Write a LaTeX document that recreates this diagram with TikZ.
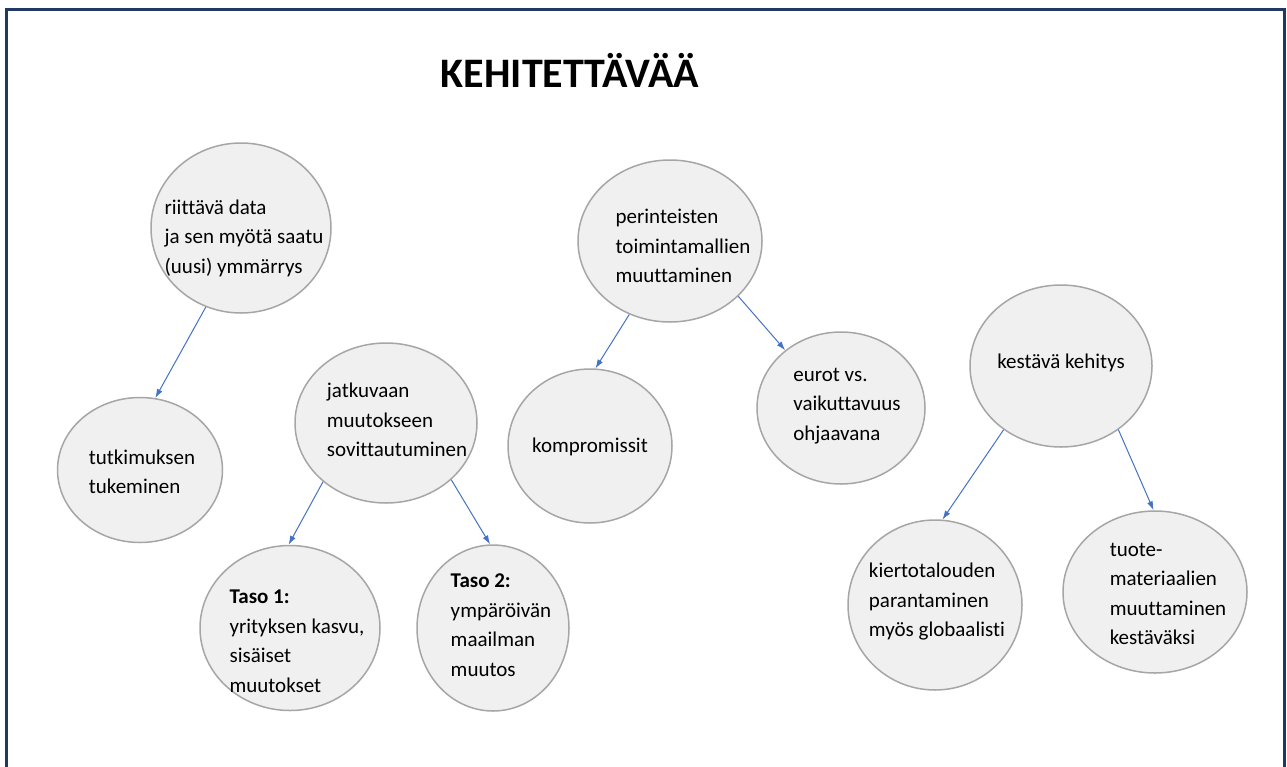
\documentclass[tikz,border=0pt]{standalone}
\usepackage{fontspec}
\setmainfont[Ligatures=NoCommon]{Carlito}
\usepackage{tikz}
\usetikzlibrary{arrows.meta,shapes.geometric}
\usepackage{xcolor}

\definecolor{framenavy}{HTML}{1F3864}
\definecolor{arrowblue}{HTML}{4472C4}
\definecolor{bubblefill}{HTML}{F0F0F0}
\definecolor{bubbleline}{HTML}{A6A6A6}

\begin{document}
\begin{tikzpicture}[x=1pt,y=-1pt]
	\useasboundingbox (0,0) rectangle (1287,766);
	\draw[framenavy,line width=3pt] (6,790) -- (6,9) -- (1284,9) -- (1284,790);

	\node[font=\fontsize{42}{48}\selectfont\bfseries] (title) at (570,70) {KEHITETTÄVÄÄ};

	% the bubbles
	\begin{scope}[every node/.style={ellipse,draw=bubbleline,line width=1.5pt,fill=bubblefill,inner sep=0pt}]
		\node[minimum width=180pt,minimum height=170pt] (data) at (241,228) {};
		\node[minimum width=165pt,minimum height=145pt] (tutk) at (140,470) {};
		\node[minimum width=182pt,minimum height=160pt] (jatk) at (386,423) {};
		\node[minimum width=180pt,minimum height=165pt] (taso1) at (290,628) {};
		\node[minimum width=152pt,minimum height=166pt] (taso2) at (493,628) {};
		\node[minimum width=184pt,minimum height=162pt] (perint) at (670,241) {};
		\node[minimum width=164pt,minimum height=154pt] (kompr) at (590,446) {};
		\node[minimum width=168pt,minimum height=152pt] (eurot) at (841,408) {};
		\node[minimum width=182pt,minimum height=162pt] (kest) at (1061,366) {};
		\node[minimum width=174pt,minimum height=170pt] (kiert) at (935,605) {};
		\node[minimum width=184pt,minimum height=162pt] (tuote) at (1155,592) {};
	\end{scope}

	% the texts in them
	\begin{scope}[every node/.style={align=left,inner sep=0pt,font=\fontsize{21}{29.5}\selectfont}]
		\node (data-t) at (244,238) {riittävä data\\ja sen myötä saatu\\(uusi) ymmärrys};
		\node (tutk-t) at (142,472) {tutkimuksen\\tukeminen};
		\node (jatk-t) at (397,420) {jatkuvaan\\muutokseen\\sovittautuminen};
		\node (taso1-t) at (297,641) {\textbf{Taso 1:}\\yrityksen kasvu,\\sisäiset\\muutokset};
		\node (taso2-t) at (501,625) {\textbf{Taso 2:}\\ympäröivän\\maailman\\muutos};
		\node (perint-t) at (683,246) {perinteisten\\toimintamallien\\muuttaminen};
		\node (kompr-t) at (590,447) {kompromissit};
		\node (eurot-t) at (847,406) {eurot vs.\\vaikuttavuus\\ohjaavana};
		\node (kest-t) at (1061,363) {kestävä kehitys};
		\node (kiert-t) at (937,602) {kiertotalouden\\parantaminen\\myös globaalisti};
		\node (tuote-t) at (1168,594) {tuote-\\materiaalien\\muuttaminen\\kestäväksi};
	\end{scope}

	\begin{scope}[arrowblue,line width=1pt]
	\draw[-{Latex[length=9pt,width=6pt]}] (data.-114) -- (tutk.78);
	\draw[-{Latex[length=9pt,width=6pt]}] (jatk.-137) -- (taso1.91);
	\draw[-{Latex[length=9pt,width=6pt]}] (jatk.-41) -- (taso2.92);
	\draw[-{Latex[length=9pt,width=6pt]}] (perint.-119) -- (kompr.86);
	\draw[-{Latex[length=9pt,width=6pt]}] (perint.-39) -- (eurot.134);
	\draw[-{Latex[length=9pt,width=6pt]}] (kest.-132) -- (kiert.85);
	\draw[-{Latex[length=9pt,width=6pt]}] (kest.-48) -- (tuote.91);
	\end{scope}
\end{tikzpicture}
\end{document}
